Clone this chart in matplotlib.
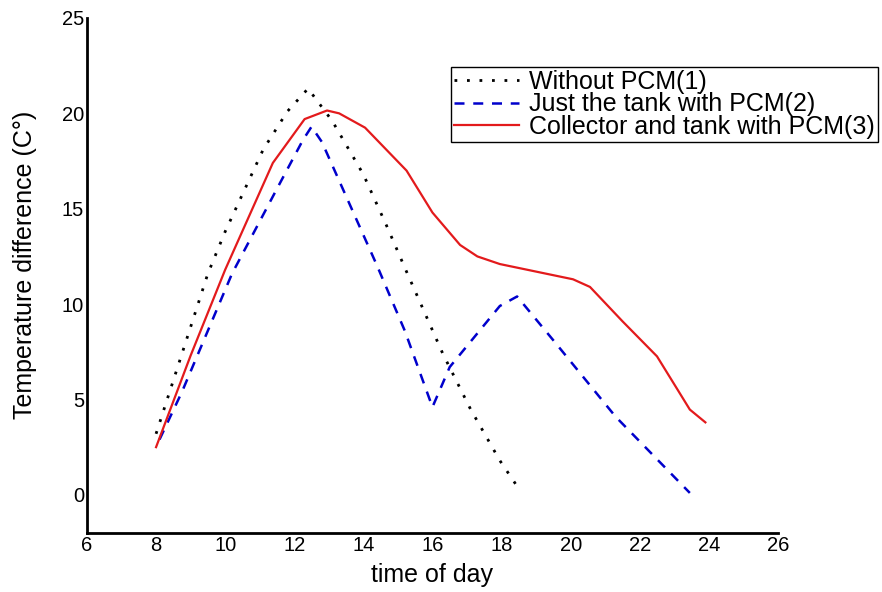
import matplotlib
matplotlib.use("Agg")
import matplotlib.pyplot as plt

plt.rcParams['font.family'] = ['Liberation Sans', 'DejaVu Sans']

# Without PCM(1)
x1 = [8.0, 9.0, 9.5, 10.0, 11.1, 11.8, 12.4, 13.1, 14.0, 14.7, 15.25, 16.3, 17.1, 17.95, 18.47]
y1 = [3.2, 8.8, 11.6, 13.8, 18.1, 20.1, 21.3, 19.6, 16.8, 14.0, 11.7, 7.4, 4.5, 1.8, 0.4]

# Just the tank with PCM(2)
x2 = [8.1, 8.75, 10.2, 11.5, 12.25, 12.5, 12.8, 14.4, 15.2, 16.0, 16.5, 17.95, 18.45, 19.5, 21.3, 23.45]
y2 = [2.9, 5.4, 11.6, 16.05, 18.6, 19.3, 18.5, 12.0, 8.6, 4.6, 6.7, 9.9, 10.4, 8.1, 4.1, 0.1]

# Collector and tank with PCM(3)
x3 = [8.0, 9.0, 10.0, 11.38, 12.3, 12.95, 13.3, 14.05, 15.25, 16.0, 16.8, 17.3, 17.95, 20.07, 20.56, 21.5, 22.5, 23.1, 23.45, 23.9]
y3 = [2.5, 7.3, 11.8, 17.4, 19.7, 20.15, 20.0, 19.25, 17.0, 14.8, 13.1, 12.5, 12.1, 11.3, 10.9, 9.1, 7.26, 5.5, 4.47, 3.8]

labels = ['Without PCM(1)', 'Just the tank with PCM(2)', 'Collector and tank with PCM(3)']
xticks = [6, 8, 10, 12, 14, 16, 18, 20, 22, 24, 26]
yticks = [0, 5, 10, 15, 20, 25]

fig = plt.figure(figsize=(8.82, 5.92), dpi=100)
ax = fig.add_axes([0.0986, 0.0997, 0.7834, 0.8699])

ax.plot(x1, y1, color='black', linestyle=(0, (1, 3.5)), linewidth=2.0, label=labels[0])
ax.plot(x2, y2, color='#0000cc', linestyle=(0, (4, 3.5)), linewidth=1.8, label=labels[1])
ax.plot(x3, y3, color='#e31a1c', linestyle='-', linewidth=1.6, label=labels[2])

ax.set_xlim(6, 26)
ax.set_ylim(-2, 25)
ax.set_xticks(xticks)
ax.set_yticks(yticks)
ax.tick_params(length=0, labelsize=14.5, pad=2)
for s in ['top', 'right']:
    ax.spines[s].set_visible(False)
for s in ['left', 'bottom']:
    ax.spines[s].set_linewidth(2)

ax.set_xlabel('time of day', fontsize=18, labelpad=6)
ax.set_ylabel('Temperature difference (C°)', fontsize=18)
ax.yaxis.set_label_coords(-0.072, 0.52)

leg = ax.legend(loc='upper right', bbox_to_anchor=(0.995, 0.887), bbox_transform=fig.transFigure,
                borderaxespad=0, fancybox=False, fontsize=18, handlelength=2.6,
                labelspacing=-0.06, handletextpad=0.4, borderpad=0.12, framealpha=1)
leg.get_frame().set_edgecolor('black')
leg.get_frame().set_linewidth(1.0)

fig.savefig('out.png', dpi=100)
